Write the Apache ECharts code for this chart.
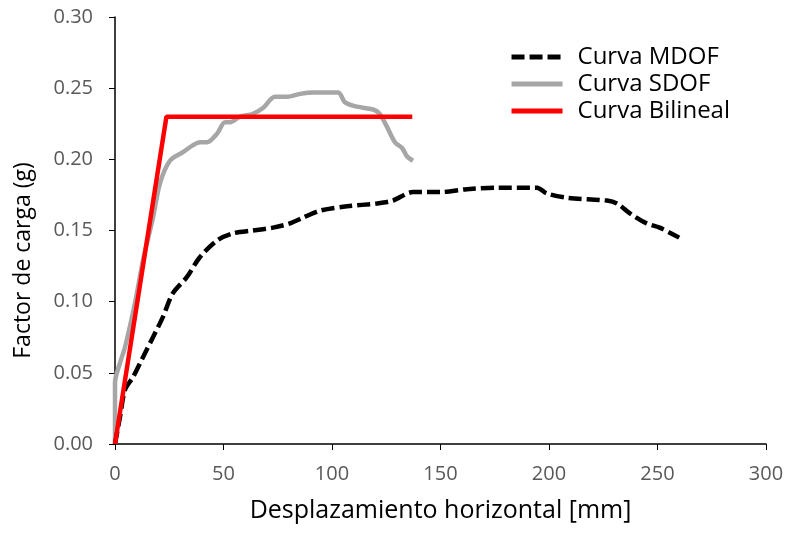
<!DOCTYPE html>
<html><head><meta charset="utf-8">
<script src="https://cdn.jsdelivr.net/npm/echarts@6/dist/echarts.min.js"></script>
<style>html,body{margin:0;padding:0;background:#fff}#c{width:787px;height:534px}</style>
</head><body><div id="c"></div>
<script>
const mdof = [[0,0],[2.3,0.019],[4.6,0.038],[8.3,0.047],[12.9,0.061],[17.5,0.075],[22,0.089],[26.7,0.106],[33,0.117],[39,0.131],[47,0.143],[54.4,0.148],[63.6,0.150],[72.8,0.152],[80.6,0.155],[86.6,0.159],[94.5,0.164],[106.9,0.167],[120.7,0.169],[128,0.171],[137.3,0.177],[149.8,0.177],[162.2,0.179],[176,0.180],[194.5,0.180],[199,0.176],[208.3,0.173],[226.7,0.171],[231.3,0.169],[237.3,0.162],[245,0.155],[251,0.152],[260,0.145]];
const sdof = [[0,0],[0,0.043],[2.3,0.057],[4.6,0.068],[9.2,0.099],[12.9,0.129],[17.5,0.159],[20.7,0.183],[25.3,0.199],[31.3,0.205],[36,0.210],[39.2,0.212],[42.4,0.212],[47,0.218],[50.7,0.226],[53,0.226],[57.6,0.230],[63.6,0.232],[68.2,0.236],[73.7,0.244],[79.3,0.244],[85.3,0.246],[91.2,0.247],[102.8,0.247],[106,0.240],[111.5,0.237],[119,0.235],[122,0.232],[125.3,0.223],[129,0.212],[132.3,0.208],[134.6,0.202],[137.3,0.199]];
const bilineal = [[0,0],[23.7,0.23],[137,0.23]];
const seriesNames = ['Curva MDOF','Curva SDOF','Curva Bilineal'];
const xTicks = {min:0,max:300,interval:50};
const yTicks = {min:0,max:0.30,interval:0.05};

const chart = echarts.init(document.getElementById('c'));
const font = '"Open Sans", sans-serif';
chart.setOption({
  animation:false,
  grid:{left:115,right:21,top:17,bottom:90},
  legend:{
    orient:'vertical', right:52, top:40, itemWidth:51, itemHeight:14, itemGap:3,
    textStyle:{fontFamily:font,fontSize:24,color:'#000',padding:[0,0,0,10]},
    lineStyle:{width:5},
    itemStyle:{opacity:0},
    data:seriesNames
  },
  xAxis:{
    type:'value', min:xTicks.min, max:xTicks.max, interval:xTicks.interval,
    name:'Desplazamiento horizontal [mm]', nameLocation:'middle', nameGap:54,
    nameTextStyle:{fontFamily:font,fontSize:25,color:'#000'},
    axisLine:{show:true,lineStyle:{color:'#000',width:1.5}},
    axisTick:{show:true,length:6,lineStyle:{color:'#000'}},
    axisLabel:{fontFamily:font,fontSize:20,color:'#595959',margin:20},
    splitLine:{show:false}
  },
  yAxis:{
    type:'value', min:yTicks.min, max:yTicks.max, interval:yTicks.interval,
    name:'Factor de carga (g)', nameLocation:'middle', nameGap:80,
    nameTextStyle:{fontFamily:font,fontSize:23,color:'#000',padding:[0,60,0,0]},
    axisLine:{show:true,lineStyle:{color:'#000',width:1.5}},
    axisTick:{show:true,length:6,lineStyle:{color:'#000'}},
    axisLabel:{fontFamily:font,fontSize:20,color:'#595959',margin:22,formatter:v=>v.toFixed(2)},
    splitLine:{show:false}
  },
  series:[
    {name:seriesNames[0],type:'line',data:mdof,symbol:'none',smooth:0.3,
     lineStyle:{color:'#000',width:4.5,type:[13,5]},itemStyle:{color:'#000'},z:3},
    {name:seriesNames[1],type:'line',data:sdof,symbol:'none',smooth:0.3,
     lineStyle:{color:'#a6a6a6',width:4.5},itemStyle:{color:'#a6a6a6'},z:2},
    {name:seriesNames[2],type:'line',data:bilineal,symbol:'none',
     lineStyle:{color:'#ff0000',width:4.5},itemStyle:{color:'#ff0000'},z:4}
  ]
});
</script></body></html>
